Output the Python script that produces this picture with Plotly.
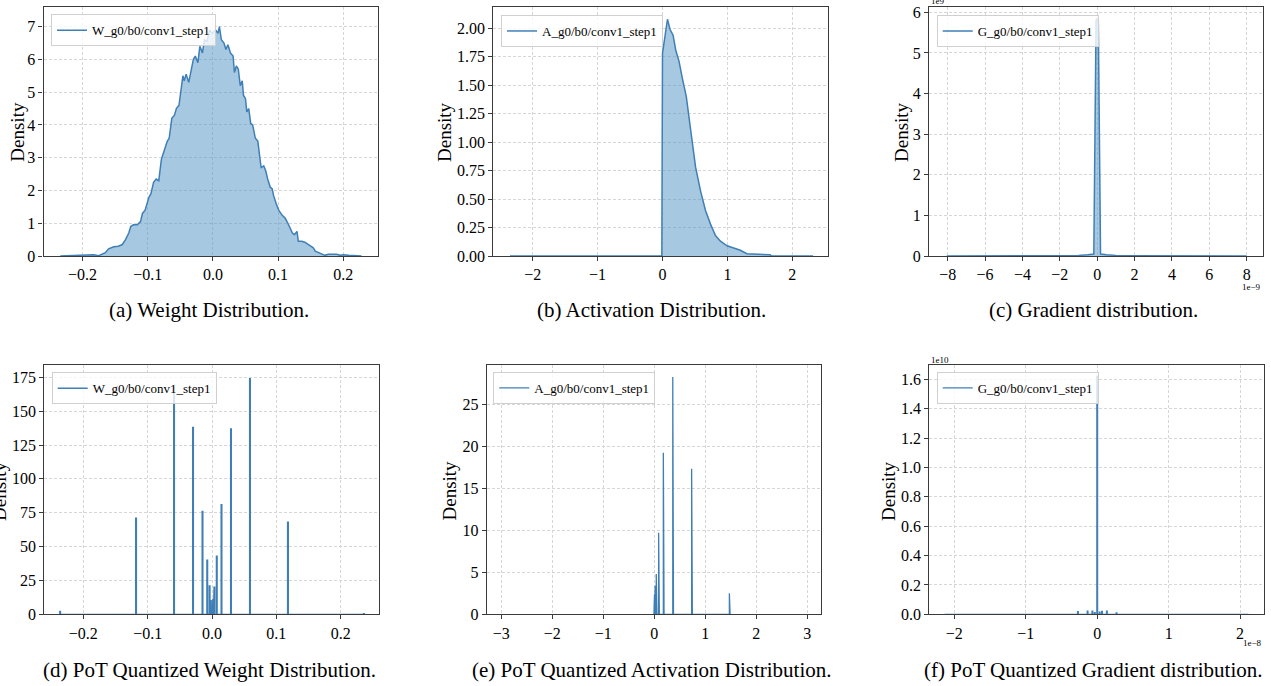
import plotly.graph_objects as go

W, H = 1271, 686
FONT = "Liberation Serif, Times New Roman, serif"
LINE_COLOR = "#3F7FB6"
FILL_COLOR = "rgba(77,145,193,0.5)"

# ---------------- data ----------------
# (a) weight density
weight_x = [-0.234, -0.209, -0.198, -0.183, -0.175, -0.165, -0.160, -0.152, -0.145, -0.139,
            -0.134, -0.129, -0.126, -0.122, -0.116, -0.111, -0.108, -0.104, -0.098, -0.095,
            -0.091, -0.087, -0.083, -0.079, -0.075, -0.070, -0.067, -0.063, -0.059, -0.056,
            -0.052, -0.049, -0.046, -0.044, -0.041, -0.037, -0.033, -0.030, -0.027, -0.023,
            -0.020, -0.016, -0.013, -0.009, -0.005, -0.001,
            0.004, 0.008, 0.010, 0.013, 0.017, 0.020, 0.023, 0.027, 0.031, 0.033,
            0.036, 0.039, 0.042, 0.045, 0.047, 0.050, 0.052, 0.055, 0.058, 0.061,
            0.065, 0.069, 0.072, 0.074, 0.078, 0.081, 0.084, 0.088, 0.091, 0.093,
            0.097, 0.101, 0.106, 0.111, 0.115, 0.119, 0.122, 0.125, 0.129, 0.131,
            0.136, 0.141, 0.147, 0.151, 0.154, 0.157, 0.162, 0.167, 0.172, 0.177,
            0.185, 0.190, 0.195, 0.200, 0.208, 0.218, 0.228]
weight_density = [0.00, 0.01, 0.03, 0.04, 0.01, 0.10, 0.22, 0.28, 0.30, 0.35,
                  0.50, 0.70, 0.90, 0.95, 0.95, 1.05, 1.30, 1.40, 1.80, 1.90,
                  2.25, 2.35, 2.30, 2.95, 3.20, 3.50, 3.60, 4.20, 4.30, 4.50,
                  4.60, 5.00, 5.50, 5.35, 5.55, 5.30, 5.75, 6.00, 6.10, 5.90,
                  6.40, 6.20, 6.60, 6.55, 6.90, 6.80,
                  6.90, 6.80, 7.00, 6.60, 6.50, 6.30, 6.45, 6.20, 6.10, 5.60,
                  5.80, 5.70, 5.20, 5.35, 4.90, 4.80, 4.40, 4.50, 4.05, 4.00,
                  3.60, 3.50, 3.00, 2.70, 2.75, 2.60, 2.35, 2.10, 2.05, 1.85,
                  1.60, 1.40, 1.25, 1.15, 1.00, 0.85, 0.70, 0.65, 0.75, 0.45,
                  0.45, 0.42, 0.35, 0.30, 0.25, 0.15, 0.10, 0.05, 0.02, 0.05,
                  0.04, 0.05, 0.02, 0.04, 0.02, 0.01, 0.00]

# (b) activation density
act_x = [-2.35, -0.01, 0.0, 0.077, 0.117, 0.163, 0.204, 0.255, 0.306, 0.367, 0.408,
         0.459, 0.510, 0.587, 0.663, 0.740, 0.816, 0.893, 0.995, 1.097, 1.199, 1.301,
         1.658, 1.684, 2.32]
act_density = [0.0, 0.0, 1.78, 2.08, 1.99, 1.94, 1.81, 1.71, 1.56, 1.40, 1.22,
               1.02, 0.78, 0.57, 0.40, 0.28, 0.18, 0.13, 0.09, 0.07, 0.05, 0.02,
               0.01, 0.0, 0.0]

# (c) gradient density (x in 1e-9, density in 1e9)
grad_x = [-8.05, -4.0, -2.0, -1.0, -0.5, -0.18, -0.06, 0.0, 0.06, 0.18, 0.5, 1.0, 2.0, 4.0, 8.0]
grad_density = [0.0, 0.002, 0.006, 0.015, 0.03, 0.05, 5.80, 5.84, 5.80, 0.05, 0.03, 0.015, 0.006, 0.002, 0.0]

# (d) PoT quantized weights
potw_levels = [-0.236, -0.118, -0.059, -0.0295, -0.01475, -0.0074, -0.0037, -0.0018, 0.0,
               0.0018, 0.0037, 0.0074, 0.01475, 0.0295, 0.059, 0.118, 0.236]
potw_density = [2.2, 71, 169, 138, 76, 40, 21, 10, 6, 11, 20, 43, 81, 137, 174, 68, 0.5]

# (e) PoT quantized activations
pota_levels = [0.0, 0.0116, 0.023, 0.046, 0.0925, 0.185, 0.37, 0.74, 1.48]
pota_density = [1.1, 2.3, 3.4, 4.8, 9.7, 19.2, 28.2, 17.3, 2.5]

# (f) PoT quantized gradients (x in 1e-8, density in 1e10)
potg_levels = [-2.13, -0.54, -0.27, -0.135, -0.0675, -0.034, 0.0, 0.034, 0.0675, 0.135, 0.27, 0.54, 2.11]
potg_density = [0.0, 0.003, 0.018, 0.022, 0.022, 0.012, 1.62, 0.015, 0.02, 0.022, 0.01, 0.003, 0.0]

legend_names = ["W_g0/b0/conv1_step1", "A_g0/b0/conv1_step1", "G_g0/b0/conv1_step1",
                "W_g0/b0/conv1_step1", "A_g0/b0/conv1_step1", "G_g0/b0/conv1_step1"]
captions = ["(a) Weight Distribution.", "(b) Activation Distribution.", "(c) Gradient distribution.",
            "(d) PoT Quantized Weight Distribution.", "(e) PoT Quantized Activation Distribution.",
            "(f) PoT Quantized Gradient distribution."]

xticks_a = [-0.2, -0.1, 0.0, 0.1, 0.2]
yticks_a = [0, 1, 2, 3, 4, 5, 6, 7]
xticks_b = [-2, -1, 0, 1, 2]
yticks_b = [0, 0.25, 0.5, 0.75, 1.0, 1.25, 1.5, 1.75, 2.0]
xticks_c = [-8, -6, -4, -2, 0, 2, 4, 6, 8]
yticks_c = [0, 1, 2, 3, 4, 5, 6]
xticks_d = [-0.2, -0.1, 0.0, 0.1, 0.2]
yticks_d = [0, 25, 50, 75, 100, 125, 150, 175]
xticks_e = [-3, -2, -1, 0, 1, 2, 3]
yticks_e = [0, 5, 10, 15, 20, 25]
xticks_f = [-2, -1, 0, 1, 2]
yticks_f = [0, 0.2, 0.4, 0.6, 0.8, 1.0, 1.2, 1.4, 1.6]


def spikes(levels, heights, half):
    xs, ys = [], []
    for p, h in zip(levels, heights):
        xs += [p - half, p - half, p + half, p + half]
        ys += [0, h, h, 0]
    return xs, ys


def px_x(p):
    return p / W


def px_y(p):
    return 1 - p / H


sx_d, sy_d = spikes(potw_levels, potw_density, 0.0006)
sx_e, sy_e = spikes(pota_levels, pota_density, 0.0070)
sx_f, sy_f = spikes(potg_levels, potg_density, 0.0050)

panels = [
    dict(x=weight_x, y=weight_density, dom=(43.5, 378.3, 7, 256), xr=[-0.2598, 0.2537], yr=[0, 7.6],
         xt=xticks_a, xf=".1f", yt=yticks_a, yf="d", leg=(51, 14.3), dens=(16.7, 132), cap=(209, 310), lw=1.5),
    dict(x=act_x, y=act_density, dom=(493.3, 828.3, 7.3, 256), xr=[-2.607, 2.555], yr=[0, 2.185],
         xt=xticks_b, xf="d", yt=yticks_b, yf=".2f", leg=(501, 15), dens=(444, 132), cap=(651, 310), lw=1.5),
    dict(x=grad_x, y=grad_density, dom=(929, 1263.3, 7, 256), xr=[-9.0, 8.89], yr=[0, 6.13],
         xt=xticks_c, xf="d", yt=yticks_c, yf="d", leg=(936.7, 15), dens=(901, 132), cap=(1093, 310), lw=1.5),
    dict(x=sx_d, y=sy_d, dom=(44.3, 379, 365, 614.3), xr=[-0.2606, 0.2595], yr=[0, 184.1],
         xt=xticks_d, xf=".1f", yt=yticks_d, yf="d", leg=(51.7, 372.3), dens=(-0.5, 491.5), cap=(209, 670), lw=1.3),
    dict(x=sx_e, y=sy_e, dom=(486.7, 821, 365, 614.3), xr=[-3.286, 3.27], yr=[0, 29.64],
         xt=xticks_e, xf="d", yt=yticks_e, yf="d", leg=(493.3, 372), dens=(449.5, 491), cap=(651, 670), lw=1.3),
    dict(x=sx_f, y=sy_f, dom=(929.3, 1263.7, 365, 614.3), xr=[-2.35, 2.33], yr=[0, 1.697],
         xt=xticks_f, xf="d", yt=yticks_f, yf=".1f", leg=(936.7, 372), dens=(889, 491), cap=(1093, 670), lw=1.3),
]

fig = go.Figure()
layout = dict(width=W, height=H, margin=dict(l=0, r=0, t=0, b=0, pad=0, autoexpand=False),
              paper_bgcolor="white", plot_bgcolor="white",
              font=dict(family=FONT, color="black"), annotations=[])

axis_common = dict(showline=True, mirror=True, linecolor="#3a3a3a", linewidth=1.2,
                   ticks="outside", ticklen=4, tickwidth=1, tickcolor="#3a3a3a",
                   showgrid=True, gridcolor="#d6d6d6", gridwidth=0.8, griddash="3px,2px",
                   zeroline=False, tickfont=dict(family=FONT, size=16, color="black"),
                   tickmode="array", fixedrange=True, automargin=False)

for i, p in enumerate(panels, start=1):
    sfx = "" if i == 1 else str(i)
    xa, ya = "x" + sfx, "y" + sfx
    leg = "legend" + sfx
    # fill (no legend entry)
    fig.add_trace(go.Scatter(x=p["x"], y=p["y"], mode="lines", fill="tozeroy",
                             fillcolor=FILL_COLOR, line=dict(width=0, color=LINE_COLOR),
                             showlegend=False, hoverinfo="skip", xaxis=xa, yaxis=ya))
    # line with legend entry
    fig.add_trace(go.Scatter(x=p["x"], y=p["y"], mode="lines", name=legend_names[i - 1],
                             line=dict(width=p["lw"], color=LINE_COLOR), showlegend=True,
                             legend=leg, xaxis=xa, yaxis=ya))
    l, r, t, b = p["dom"]
    layout["xaxis" + sfx] = dict(axis_common, domain=[px_x(l), px_x(r)], range=p["xr"],
                                 tickvals=p["xt"], tickformat=p["xf"], anchor=ya)
    layout["yaxis" + sfx] = dict(axis_common, domain=[px_y(b), px_y(t)], range=p["yr"],
                                 tickvals=p["yt"], tickformat=p["yf"], anchor=xa)
    lx, ly = p["leg"]
    layout[leg] = dict(x=px_x(lx), y=px_y(ly), xanchor="left", yanchor="top",
                       xref="paper", yref="paper",
                       bgcolor="rgba(255,255,255,0.8)", bordercolor="#d0d0d0", borderwidth=1,
                       font=dict(family=FONT, size=13, color="black"))
    dx, dy = p["dens"]
    layout["annotations"].append(dict(text="Density", x=px_x(dx), y=px_y(dy), xref="paper", yref="paper",
                                      textangle=-90, showarrow=False, xanchor="center", yanchor="middle",
                                      font=dict(family=FONT, size=19, color="black")))
    cx, cy = p["cap"]
    layout["annotations"].append(dict(text=captions[i - 1], x=px_x(cx), y=px_y(cy), xref="paper", yref="paper",
                                      showarrow=False, xanchor="center", yanchor="middle",
                                      font=dict(family=FONT, size=21, color="black")))

offsets = [("1e9", 929.3, 0.5, "left"), ("1e\u22129", 1263.3, 286.5, "right"),
           ("1e10", 929.3, 360, "left"), ("1e\u22128", 1263.7, 643, "right")]
for txt, ox, oy, anc in offsets:
    layout["annotations"].append(dict(text=txt, x=px_x(ox), y=px_y(oy), xref="paper", yref="paper",
                                      showarrow=False, xanchor=anc, yanchor="middle",
                                      font=dict(family=FONT, size=9, color="black")))

fig.update_layout(**layout)
fig.write_html("out.html", config={"displayModeBar": False},
               post_script="document.body.style.margin='0';document.body.style.overflow='hidden';")
